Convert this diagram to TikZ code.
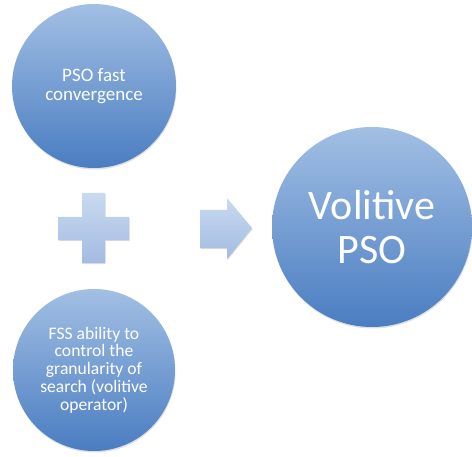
\documentclass[tikz,border=0pt]{standalone}
\usepackage{fontspec}
\setmainfont{Carlito}
\usetikzlibrary{shadows}
\definecolor{discTop}{HTML}{A2BFE4}
\definecolor{discBot}{HTML}{4A7DC1}
\definecolor{glyphTop}{HTML}{C9DAF0}
\definecolor{glyphBot}{HTML}{A3BBE2}
\tikzset{
  disc/.style={circle, inner sep=0pt, outer sep=0pt, top color=discTop,
    bottom color=discBot, text=white, align=center,
    drop shadow={shadow xshift=0.5pt, shadow yshift=-1.5pt, opacity=0.25}},
  glyph/.style={top color=glyphTop, bottom color=glyphBot,
    drop shadow={shadow xshift=0.5pt, shadow yshift=-1.2pt, opacity=0.3}},
}
\begin{document}
\begin{tikzpicture}[x=1pt, y=-1pt]
\useasboundingbox (0,0) rectangle (472,457);
% input discs
\node[disc, minimum size=164pt, font=\fontsize{19}{19.6}\selectfont] (pso) at (94,86)
  {PSO fast\\convergence};
\node[disc, minimum size=162pt, font=\fontsize{17.6}{17.75}\selectfont] (fss) at (94,370)
  {FSS ability to\\control the\\granularity of\\search (volitive\\operator)};
% result disc
\node[disc, minimum size=200pt, font=\fontsize{42}{44}\selectfont] (vpso) at (372,227)
  {Volitive\\PSO};
% plus sign between the inputs
\path[glyph] (82,193) -- (105,193) -- (105,217) -- (129,217) -- (129,240)
  -- (105,240) -- (105,263) -- (82,263) -- (82,240) -- (58,240) -- (58,217)
  -- (82,217) -- cycle;
% arrow towards the result
\path[glyph] (200,210) -- (227,210) -- (227,198) -- (252,228) -- (227,259)
  -- (227,248) -- (200,248) -- cycle;
\end{tikzpicture}
\end{document}
